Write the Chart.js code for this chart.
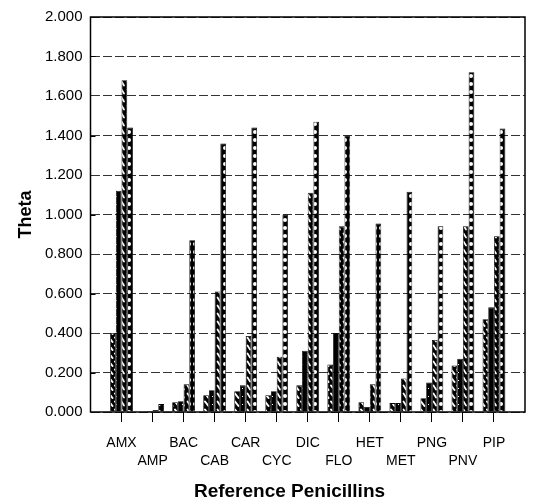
<!DOCTYPE html>
<html>
<head>
<meta charset="utf-8">
<script src="https://cdn.jsdelivr.net/npm/chart.js@4"></script>
<style>
    html, body { margin: 0; padding: 0; background: #fff; }
    #chart { display: block; }
</style>
</head>
<body>
<canvas id="chart" width="537" height="504"></canvas>
<script>
// reference penicillins, one group of four bars each
const categories = ['AMX', 'AMP', 'BAC', 'CAB', 'CAR', 'CYC', 'DIC', 'FLO', 'HET', 'MET', 'PNG', 'PNV', 'PIP'];
const setA = [0.40, 0.003, 0.05, 0.085, 0.105, 0.085, 0.135, 0.24, 0.05, 0.045, 0.07, 0.235, 0.47];
const setB = [1.12, 0.005, 0.055, 0.11, 0.135, 0.105, 0.31, 0.40, 0.025, 0.045, 0.15, 0.27, 0.53];
const setC = [1.68, 0.01, 0.14, 0.61, 0.385, 0.28, 1.11, 0.94, 0.14, 0.17, 0.365, 0.94, 0.89];
const setD = [1.44, 0.04, 0.87, 1.36, 1.44, 1.00, 1.47, 1.40, 0.955, 1.115, 0.94, 1.72, 1.435];
const yTickMin = 0;
const yTickMax = 2;
const yTickStep = 0.1;

(function () {
    const canvas = document.getElementById('chart');
    const ctx = canvas.getContext('2d');
    const font = "'Liberation Sans', Arial, sans-serif";

    function makePattern(kind) {
        const tile = document.createElement('canvas');
        tile.width = 6;
        tile.height = 8;
        const g = tile.getContext('2d');
        g.fillStyle = '#000';
        g.fillRect(0, 0, tile.width, tile.height);
        g.fillStyle = '#fff';
        g.strokeStyle = '#fff';
        g.lineCap = 'round';
        if (kind === 'slash') {
            g.lineWidth = 2;
            g.beginPath();
            g.moveTo(1, 1.5);
            g.lineTo(4.5, 6);
            g.stroke();
        } else if (kind === 'slash2') {
            g.lineWidth = 1.7;
            g.beginPath();
            g.moveTo(1.5, 1.5);
            g.lineTo(4, 5.5);
            g.stroke();
        } else if (kind === 'dense') {
            g.fillRect(2, 4, 1, 1);
        } else if (kind === 'dots') {
            g.beginPath();
            g.arc(3, 4, 2, 0, Math.PI * 2);
            g.fill();
        }
        return ctx.createPattern(tile, 'repeat');
    }

    // empty slot at each end, so the groups sit like the original axis
    const labels = [''].concat(categories.map((c, i) => (i % 2 ? ['', c] : c)), ['']);
    const pad = values => [null].concat(values, [null]);

    const series = [
        { label: 'A', data: setA, kind: 'slash' },
        { label: 'B', data: setB, kind: 'dense' },
        { label: 'C', data: setC, kind: 'slash2' },
        { label: 'D', data: setD, kind: 'dots' }
    ];

    const framePlugin = {
        id: 'frame',
        afterDraw(chart) {
            const a = chart.chartArea;
            const y = chart.scales.y;
            const c = chart.ctx;
            c.save();
            c.strokeStyle = '#000';
            c.lineWidth = 1.5;
            c.strokeRect(a.left, a.top, a.right - a.left, a.bottom - a.top);
            // minor ticks on the inside of the left axis
            c.lineWidth = 1;
            y.ticks.forEach((t, i) => {
                if (i % 2 === 1) {
                    const py = Math.round(y.getPixelForValue(t.value)) + 0.5;
                    c.beginPath();
                    c.moveTo(a.left, py);
                    c.lineTo(a.left + 5, py);
                    c.stroke();
                }
            });
            c.fillStyle = '#000';
            c.font = 'bold 19px ' + font;
            c.textAlign = 'center';
            c.textBaseline = 'middle';
            c.fillText('Reference Penicillins', a.left + (a.right - a.left) * 0.458, 492);
            c.restore();
        }
    };

    new Chart(canvas, {
        type: 'bar',
        data: {
            labels,
            datasets: series.map(s => ({
                label: s.label,
                data: pad(s.data),
                backgroundColor: makePattern(s.kind),
                borderColor: '#000',
                borderWidth: 0.8,
                categoryPercentage: 0.735,
                barPercentage: 1.0
            }))
        },
        options: {
            responsive: false,
            animation: false,
            layout: { padding: { top: 12, right: 2, bottom: 0, left: 0 } },
            plugins: {
                legend: { display: false },
                tooltip: { enabled: false }
            },
            scales: {
                x: {
                    offset: false,
                    afterFit(scale) { scale.height = 92; },
                    grid: {
                        offset: false,
                        drawOnChartArea: false,
                        drawTicks: true,
                        tickLength: 10,
                        tickColor: ctxt => (ctxt.index === 0 || ctxt.index === labels.length - 1 ? 'rgba(0,0,0,0)' : '#000'),
                        lineWidth: 1
                    },
                    border: { display: false },
                    ticks: {
                        autoSkip: false,
                        maxRotation: 0,
                        minRotation: 0,
                        padding: 12,
                        color: '#000',
                        font: { family: font, size: 14, lineHeight: 1.3 }
                    }
                },
                y: {
                    min: yTickMin,
                    max: yTickMax,
                    afterFit(scale) { scale.width = 90.5; },
                    grid: {
                        drawTicks: false,
                        color: ctxt => (ctxt.index % 2 === 0 ? '#333' : 'rgba(0,0,0,0)'),
                        lineWidth: 1
                    },
                    border: { display: false, dash: [9, 3] },
                    ticks: {
                        stepSize: yTickStep,
                        padding: 8,
                        color: '#000',
                        font: { family: font, size: 15 },
                        callback: (value, index) => (index % 2 === 0 ? Number(value).toFixed(3) : '')
                    },
                    title: {
                        display: true,
                        text: 'Theta',
                        color: '#000',
                        font: { family: font, size: 18, weight: 'bold' },
                        padding: { top: 15, bottom: 0 }
                    }
                }
            }
        },
        plugins: [framePlugin]
    });
})();
</script>
</body>
</html>
